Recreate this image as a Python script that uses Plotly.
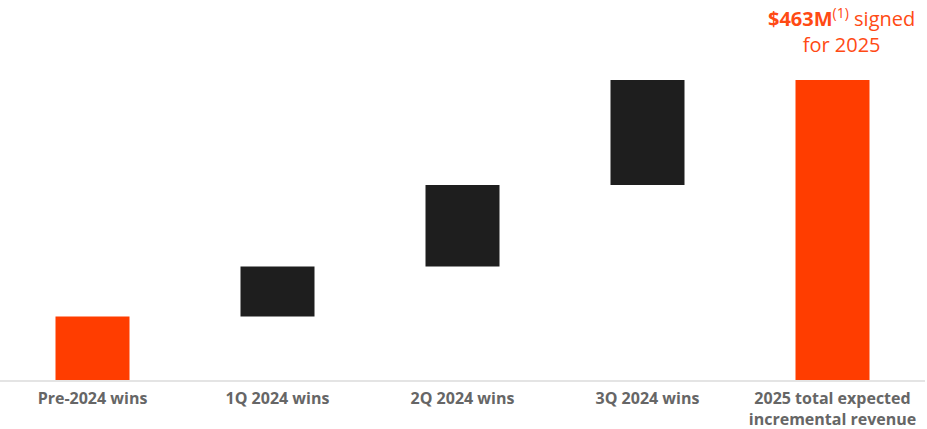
import numpy as np
import plotly.graph_objects as go

categories = ["Pre-2024 wins", "1Q 2024 wins", "2Q 2024 wins", "3Q 2024 wins",
              "2025 total expected<br>incremental revenue"]
increments = [98, 77, 126, 162]
total_value = 463
bar_colors = ["#FF3D00", "#1E1E1E", "#1E1E1E", "#1E1E1E", "#FF3D00"]

inc = np.array(increments, dtype=float)
bases = list(np.concatenate([[0], np.cumsum(inc)[:-1]])) + [0]
heights = list(inc) + [total_value]

fig = go.Figure()
fig.add_trace(go.Bar(
    x=categories, y=heights, base=bases,
    marker=dict(color=bar_colors, line=dict(width=0)),
    width=0.4, hoverinfo="skip", showlegend=False,
))

fig.add_annotation(
    x=categories[-1], y=1, yref="paper", yanchor="bottom", xshift=9, yshift=-4,
    text="<b>$463M</b><sup>(1)</sup> signed<br>for 2025",
    showarrow=False, align="center",
    font=dict(family="Open Sans", size=20, color="#FF4A14"),
)

fig.update_layout(
    width=927, height=429,
    margin=dict(l=0, r=2, t=56, b=49, autoexpand=False),
    paper_bgcolor="white", plot_bgcolor="white",
    bargap=0.6,
    font=dict(family="Open Sans"),
)
fig.update_xaxes(
    automargin=False,
    showline=True, linecolor="#E4E4E4", linewidth=2,
    showgrid=False, ticks="outside", ticklen=3, tickcolor="rgba(0,0,0,0)",
    tickfont=dict(family="Open Sans", size=16, color="#666666", weight=700),
)
fig.update_yaxes(range=[0, 500], visible=False, showgrid=False, automargin=False)

fig.write_html("out.html", config={"displayModeBar": False},
               post_script="document.body.style.margin='0';document.body.style.overflow='hidden';")
